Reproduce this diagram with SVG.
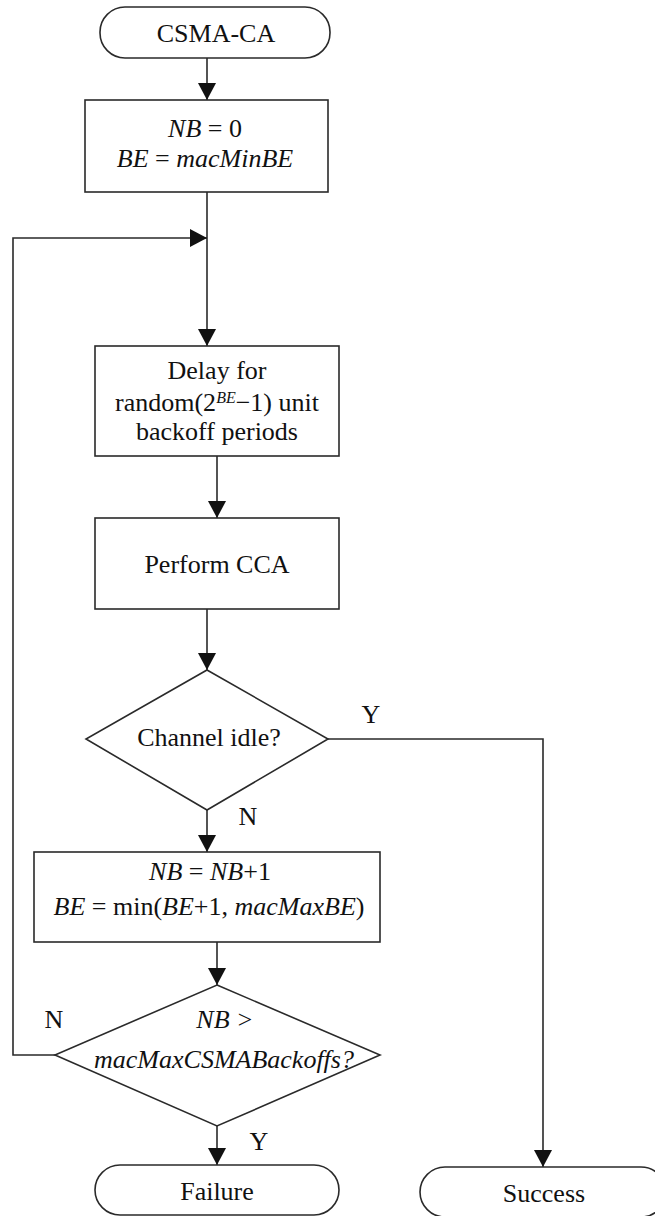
<svg xmlns="http://www.w3.org/2000/svg" width="655" height="1216" viewBox="0 0 655 1216">
<style>
  .shape { fill: #ffffff; stroke: #2a2a2a; stroke-width: 1.6; }
  .conn { fill: none; stroke: #2a2a2a; stroke-width: 1.6; }
  text { font-family: "Liberation Serif", "Times New Roman", serif; font-size: 26px; fill: #111; }
  .c { text-anchor: middle; }
  .i { font-style: italic; }
</style>
<defs>
  <marker id="arrow" markerUnits="userSpaceOnUse" viewBox="0 0 17 18" markerWidth="17" markerHeight="18" refX="17" refY="9" orient="auto">
    <path d="M0,0 L17,9 L0,18 z" fill="#111"/>
  </marker>
</defs>
<rect width="655" height="1216" fill="#ffffff"/>

<g id="connectors">
  <line class="conn" x1="207" y1="58" x2="207" y2="100" marker-end="url(#arrow)"/>
  <line class="conn" x1="207" y1="192" x2="207" y2="346" marker-end="url(#arrow)"/>
  <polyline class="conn" points="55,1055 13,1055 13,238 207,238" marker-end="url(#arrow)"/>
  <line class="conn" x1="217" y1="456" x2="217" y2="518" marker-end="url(#arrow)"/>
  <line class="conn" x1="207" y1="609" x2="207" y2="670" marker-end="url(#arrow)"/>
  <polyline class="conn" points="328,739 543,739 543,1167" marker-end="url(#arrow)"/>
  <line class="conn" x1="207" y1="810" x2="207" y2="852" marker-end="url(#arrow)"/>
  <line class="conn" x1="217" y1="942" x2="217" y2="985" marker-end="url(#arrow)"/>
  <line class="conn" x1="217" y1="1126" x2="217" y2="1165" marker-end="url(#arrow)"/>
  <text x="371" y="723" class="c">Y</text>
  <text x="248" y="825" class="c">N</text>
  <text x="54" y="1028" class="c">N</text>
  <text x="259" y="1150" class="c">Y</text>
</g>

<g id="start">
  <rect class="shape" x="100" y="7" width="230" height="51" rx="25" ry="25"/>
  <text x="216" y="42" class="c">CSMA-CA</text>
</g>

<g id="init">
  <rect class="shape" x="85" y="100" width="243" height="92"/>
  <text x="205" y="137" class="c"><tspan class="i">NB</tspan> = 0</text>
  <text x="205" y="167" class="c"><tspan class="i">BE</tspan> = <tspan class="i">macMinBE</tspan></text>
</g>

<g id="delay">
  <rect class="shape" x="95" y="346" width="244" height="110"/>
  <text x="217" y="379" class="c">Delay for</text>
  <text x="217" y="411" class="c">random(2<tspan class="i" font-size="16" dy="-8">BE</tspan><tspan dy="8">−1) unit</tspan></text>
  <text x="217" y="440" class="c">backoff periods</text>
</g>

<g id="cca">
  <rect class="shape" x="95" y="518" width="244" height="91"/>
  <text x="217" y="573" class="c">Perform CCA</text>
</g>

<g id="idle">
  <polygon class="shape" points="207,670 328,739 207,810 86,739"/>
  <text x="209" y="746" class="c">Channel idle?</text>
</g>

<g id="increment">
  <rect class="shape" x="34" y="852" width="346" height="90"/>
  <text x="210" y="880" class="c"><tspan class="i">NB</tspan> = <tspan class="i">NB</tspan>+1</text>
  <text x="209" y="915" class="c"><tspan class="i">BE</tspan> = min(<tspan class="i">BE</tspan>+1, <tspan class="i">macMaxBE</tspan>)</text>
</g>

<g id="maxcheck">
  <polygon class="shape" points="217,985 380,1055 217,1126 55,1055"/>
  <text x="225" y="1028" class="c i">NB &gt;</text>
  <text x="224" y="1068" class="c i">macMaxCSMABackoffs?</text>
</g>

<g id="failure">
  <rect class="shape" x="95" y="1165" width="244" height="50" rx="25" ry="25"/>
  <text x="217" y="1200" class="c">Failure</text>
</g>

<g id="success">
  <rect class="shape" x="420" y="1167" width="246" height="50" rx="25" ry="25"/>
  <text x="544" y="1202" class="c">Success</text>
</g>
</svg>
